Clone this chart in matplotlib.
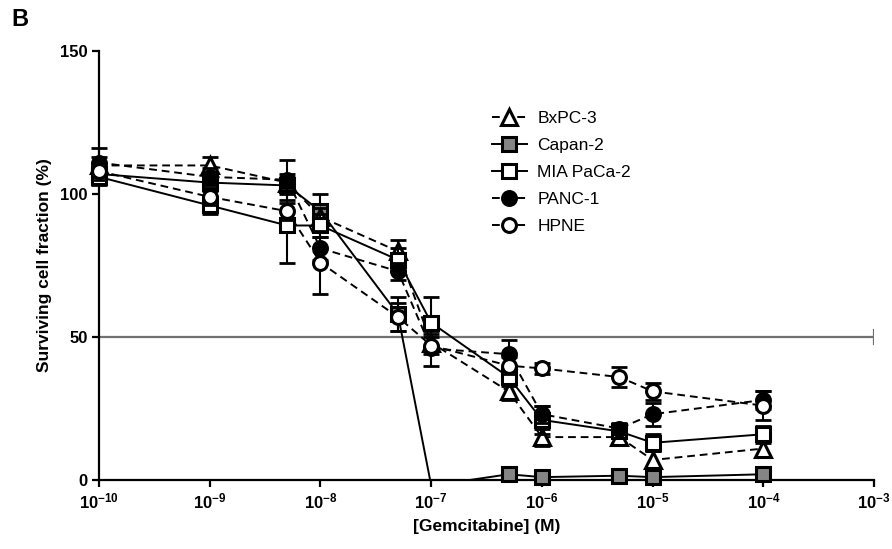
import matplotlib
matplotlib.use("Agg")
import matplotlib.pyplot as plt
import numpy as np
from matplotlib.ticker import FixedLocator, FixedFormatter

plt.rcParams['font.family'] = ['Liberation Sans', 'DejaVu Sans']
plt.rcParams['mathtext.fontset'] = 'custom'
plt.rcParams['mathtext.rm'] = 'Liberation Sans'
plt.rcParams['mathtext.bf'] = 'Liberation Sans:bold'

conc = [1e-10, 1e-9, 5e-9, 1e-8, 5e-8, 1e-7, 5e-7, 1e-6, 5e-6, 1e-5, 1e-4]

bxpc3 = [110, 110, 104, 92, 80, 48, 31, 15, 15, 7, 11]
bxpc3_err = [3, 3, 3, 3, 4, 3, 3, 3, 2, 3, 3]
capan2 = [107, 104, 103, 94, 58, -2, 2, 1, 1.5, 1, 2]
capan2_err = [3, 3, 3, 6, 6, 0, 1, 1, 1, 1, 1]
mia = [106, 96, 89, 89, 77, 55, 36, 21, 17, 13, 16]
mia_err = [3, 3, 13, 4, 4, 9, 3, 5, 2, 3, 3]
panc1 = [111, 106, 105, 81, 73, 46, 44, 23, 18, 23, 28]
panc1_err = [5, 3, 7, 4, 3, 6, 5, 3, 2, 4, 3]
hpne = [108, 99, 94, 76, 57, 47, 40, 39, 36, 31, 26]
hpne_err = [3, 3, 3, 11, 5, 3, 3, 2, 3.5, 3, 5]

labels = ['BxPC-3', 'Capan-2', 'MIA PaCa-2', 'PANC-1', 'HPNE']
xticks = [1e-10, 1e-9, 1e-8, 1e-7, 1e-6, 1e-5, 1e-4, 1e-3]
xticklabels = [r'$\mathbf{10^{-10}}$', r'$\mathbf{10^{-9}}$', r'$\mathbf{10^{-8}}$',
               r'$\mathbf{10^{-7}}$', r'$\mathbf{10^{-6}}$', r'$\mathbf{10^{-5}}$',
               r'$\mathbf{10^{-4}}$', r'$\mathbf{10^{-3}}$']
yticks = [0, 50, 100, 150]
ref_level = 50

fig = plt.figure(figsize=(8.92, 5.49), dpi=100)
ax = fig.add_axes([0.111, 0.1257, 0.869, 0.7813])

ax.plot([xticks[0], xticks[-1]], [ref_level, ref_level], color='#707070', lw=1.6, zorder=1)
ax.plot([xticks[-1], xticks[-1]], [ref_level - 2.5, ref_level + 2.5], color='#707070', lw=1.6, zorder=1)

dash = (0, (4, 2.5))
series = [
    (bxpc3, bxpc3_err, '^', 'white', dash),
    (capan2, capan2_err, 's', '#858585', '-'),
    (mia, mia_err, 's', 'white', '-'),
    (panc1, panc1_err, 'o', 'black', dash),
    (hpne, hpne_err, 'o', 'white', dash),
]
zorders = [4, 3, 5, 6, 7]

handles = []
for (vals, err, mk, fc, ls), lab, zo in zip(series, labels, zorders):
    x = np.array(conc)
    v = np.array(vals, dtype=float)
    e = np.array(err, dtype=float)
    ok = v >= 0
    ms = 11 if mk == '^' else 10
    ax.plot(x, v, linestyle=ls, color='black', lw=1.4, zorder=2)
    ax.errorbar(x[ok], v[ok], yerr=e[ok], fmt='none', ecolor='black', elinewidth=1.5,
                capsize=6, capthick=2, zorder=zo - 0.5, clip_on=False)
    ax.plot(x[ok], v[ok], linestyle='none', marker=mk, markersize=ms,
            markerfacecolor=fc, markeredgecolor='black', markeredgewidth=2.2,
            zorder=zo, clip_on=False)
    h, = ax.plot([], [], linestyle=ls, color='black', lw=1.4, marker=mk, markersize=ms,
                 markerfacecolor=fc, markeredgecolor='black', markeredgewidth=2.2,
                 label=lab)
    handles.append(h)

ax.set_xscale('log')
ax.set_xlim(1e-10, 1e-3)
ax.set_ylim(0, 150)
ax.xaxis.set_major_locator(FixedLocator(xticks))
ax.xaxis.set_major_formatter(FixedFormatter(xticklabels))
ax.xaxis.set_minor_locator(FixedLocator([]))
ax.set_yticks(yticks)
ax.set_yticklabels([str(v) for v in yticks], fontweight='bold', fontsize=12)
for t in ax.get_xticklabels():
    t.set_fontsize(12)

for s in ['top', 'right']:
    ax.spines[s].set_visible(False)
for s in ['left', 'bottom']:
    ax.spines[s].set_linewidth(1.6)
ax.tick_params(axis='both', direction='out', length=5, width=1.6, pad=3)

ax.set_ylabel('Surviving cell fraction (%)', fontweight='bold', fontsize=12.5, labelpad=6)
ax.set_xlabel('[Gemcitabine] (M)', fontweight='bold', fontsize=12.5, labelpad=6)

leg = ax.legend(handles=handles, loc='upper left', bbox_to_anchor=(0.487, 0.897),
                frameon=False, fontsize=12.5, handlelength=2.0, handletextpad=0.6,
                labelspacing=0.68)

fig.text(0.013, 0.965, 'B', fontsize=17, fontweight='bold', va='center')

fig.savefig('out.png', dpi=100)
